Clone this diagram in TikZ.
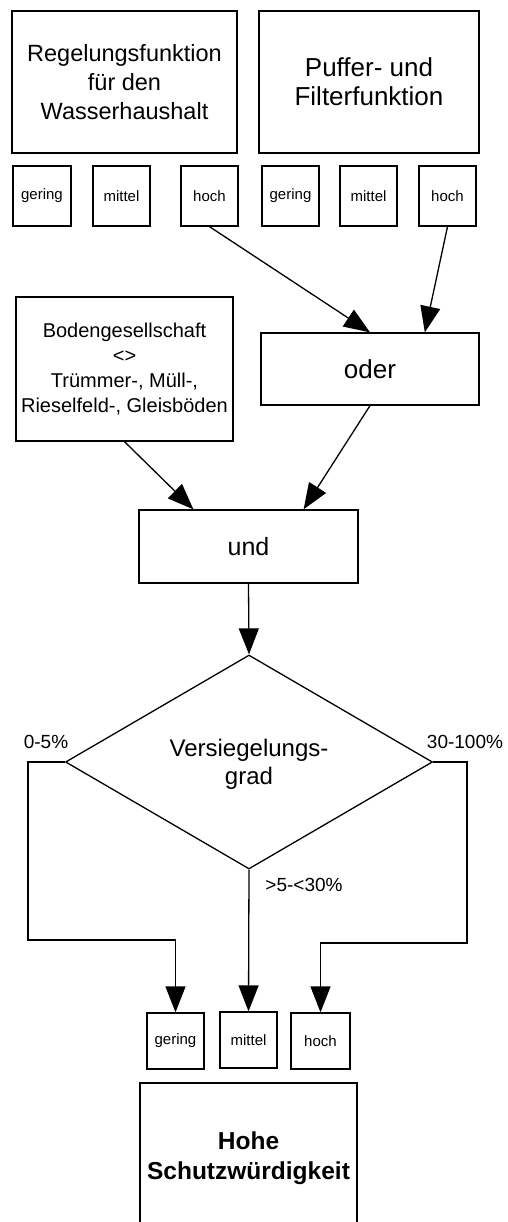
\documentclass[tikz,border=0pt]{standalone}
\usepackage{fontspec}
\setmainfont{Liberation Sans}
\usetikzlibrary{arrows.meta,shapes.geometric,calc}
\begin{document}
\begin{tikzpicture}[x=1pt,y=-1pt,
  box/.style={draw,line width=1.3pt,rectangle,inner sep=0pt,align=center},
  small/.style={box,minimum width=57,minimum height=60,font=\fontsize{15}{17}\selectfont},
  arr/.style={line width=1.3pt,-{Triangle[length=26pt,width=20pt]}},
  lbl/.style={inner sep=0pt,font=\fontsize{19}{22}\selectfont}]
\useasboundingbox (0,0) rectangle (507,1222);
\clip (0,0) rectangle (507,1222);
\node[box,minimum width=225,minimum height=142,font=\fontsize{23.5}{29}\selectfont] (A) at (124.5,82) {Regelungsfunktion\\für den\\Wasserhaushalt};
\node[box,minimum width=220,minimum height=142,font=\fontsize{26}{29}\selectfont] (B) at (369,82) {Puffer- und\\Filterfunktion};
\node[small,minimum width=58] (g1) at (42,196) {gering};
\node[small] (m1) at (121.5,196) {mittel};
\node[small] (h1) at (209.5,196) {hoch};
\node[small] (g2) at (290.5,196) {gering};
\node[small] (m2) at (368.5,196) {mittel};
\node[small] (h2) at (447.5,196) {hoch};
\node[box,minimum width=217,minimum height=144,font=\fontsize{20}{25.3}\selectfont] (bg) at (124.5,369) {Bodengesellschaft\\<>\\Trümmer-, Müll-,\\Rieselfeld-, Gleisböden};
\node[box,minimum width=218,minimum height=72,font=\fontsize{26}{30}\selectfont] (oder) at (370,369) {oder};
\node[box,minimum width=219,minimum height=73,font=\fontsize{25}{30}\selectfont] (und) at (248.5,546.5) {und};
\node[draw,line width=1.3pt,diamond,minimum width=367,minimum height=214,inner sep=0pt] (d) at (249,762) {};
\node[inner sep=0pt,align=center,font=\fontsize{24}{28}\selectfont] (dt) at (249,764) {Versiegelungs-\\grad};
\node[lbl] (l1) at (46,742) {0-5\%};
\node[lbl] (l2) at (465,742) {30-100\%};
\node[lbl] (l3) at (304,885) {>5-<30\%};
\node[small,minimum height=56] (g3) at (175.5,1041) {gering};
\node[small,minimum height=56] (m3) at (248.5,1040) {mittel};
\node[small,minimum height=56,minimum width=59] (h3) at (320.5,1041) {hoch};
\node[box,minimum width=217,minimum height=150,font=\fontsize{24.5}{30}\bfseries\selectfont] (hs) at (248.5,1158) {Hohe\\Schutzwürdigkeit};
\coordinate (lc) at (28,940);
\coordinate (rc) at (467,943);
\draw[arr] (h1.south) -- (oder.north);
\draw[arr] (h2.south) -- ($(oder.north west)!0.75!(oder.north east)$);
\draw[arr] (bg.south) -- ($(und.north west)!0.25!(und.north east)$);
\draw[arr] (oder.south) -- ($(und.north west)!0.75!(und.north east)$);
\draw[arr] (und.south) -- (d.north);
\draw[arr] (d.west) -| (lc) -| (g3.north);
\draw[arr] (d.east) -| (rc) -| (h3.north);
\draw[arr] (d.south) -- (m3.north);
\end{tikzpicture}
\end{document}
